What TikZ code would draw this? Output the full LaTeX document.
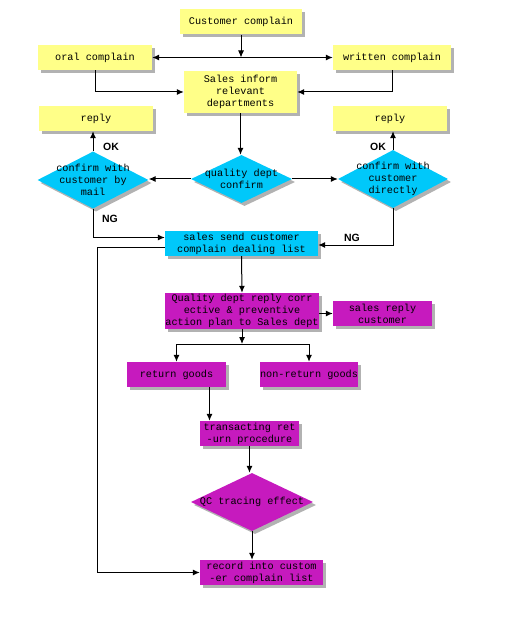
\documentclass[tikz,border=0pt]{standalone}
\usepackage{fontspec}
\setmonofont{Liberation Mono}
\newfontfamily\tagfont{Liberation Sans}
\usepackage{tikz}
\usetikzlibrary{arrows.meta,positioning,shapes.geometric,shadows}
\definecolor{note}{RGB}{255,255,136}
\definecolor{sky}{RGB}{0,200,250}
\definecolor{plum}{RGB}{198,26,190}

\begin{document}
\begin{tikzpicture}[x=1pt,y=-1pt,
    box/.style={rectangle,inner sep=0pt,minimum height=25pt,align=center,font=\ttfamily\fontsize{10.2}{12}\selectfont,drop shadow={shadow xshift=3pt,shadow yshift=-3pt,fill=black!60}},
    yel/.style={box,fill=note},
    cyb/.style={box,fill=sky},
    mag/.style={box,fill=plum},
    dia/.style={diamond,inner sep=0pt,drop shadow={shadow xshift=3pt,shadow yshift=-3pt,fill=black!60}},
    dtext/.style={font=\ttfamily\fontsize{10.2}{12}\selectfont,align=center},
    tag/.style={font=\tagfont\bfseries\fontsize{10.5}{12}\selectfont},
    ed/.style={draw=black,line width=1pt,-{Latex[length=7pt,width=6pt]}}]
   \useasboundingbox (0,0) rectangle (520,620);
   % top part
   \node[yel,minimum width=122pt] (cc)   at (241,22)    {Customer complain};
   \node[yel,minimum width=114pt] (oral) at (95,57.5)   {oral complain};
   \node[yel,minimum width=118pt] (wri)  at (392,57.5)  {written complain};
   \node[yel,minimum width=113pt,minimum height=42pt] (inf) at (240.5,92) {Sales inform\\relevant\\departments};
   \node[yel,minimum width=114pt] (repl) at (96,118.5)  {reply};
   \node[yel,minimum width=114pt] (repr) at (390,118.5) {reply};
   % confirm step
   \node[dia,fill=sky,minimum width=101pt,minimum height=48pt] (qd) at (241.5,179)
        {}; \node[dtext] at (qd) {quality dept\\confirm};
   \node[dia,fill=sky,minimum width=111pt,minimum height=57pt] (cl) at (93,180)
        {}; \node[dtext] at (cl) {confirm with\\customer by\\mail};
   \node[dia,fill=sky,minimum width=110pt,minimum height=58pt] (cr) at (393,179)
        {}; \node[dtext] at (cr) {confirm with\\customer\\directly};
   \node[cyb,minimum width=153pt] (send) at (241.5,243.5) {sales send customer\\complain dealing list};
   % lower part
   \node[mag,minimum width=154pt,minimum height=36pt] (qr) at (242,311) {Quality dept reply corr\\ective \& preventive\\action plan to Sales dept};
   \node[mag,minimum width=99pt] (sr)  at (382.5,313.5) {sales reply\\customer};
   \node[mag,minimum width=99pt] (ret) at (176.5,374.5) {return goods};
   \node[mag,minimum width=98pt] (non) at (309,374.5)   {non-return goods};
   \node[mag,minimum width=99pt] (tr)  at (249.5,433.5) {transacting ret\\-urn procedure};
   \node[dia,fill=plum,minimum width=122pt,minimum height=58pt] (qc) at (252,502)
        {}; \node[dtext] at (qc) {QC tracing effect};
   \node[mag,minimum width=123pt] (rec) at (261.5,572.5) {record into custom\\-er complain list};
   % labels
   \node[tag] (ok1) at (111,147) {OK};
   \node[tag] (ok2) at (378,147) {OK};
   \node[tag] (ng1) at (110,219) {NG};
   \node[tag] (ng2) at (352,238) {NG};
   \coordinate (fork) at (242,344);
   \coordinate (lt)   at (97,572.5);
   % connectors
   \draw[ed] (cc) -- (cc |- oral);
   \draw[ed,{Latex[length=7pt,width=6pt]}-{Latex[length=7pt,width=6pt]}] (oral) -- (wri);
   \draw[ed] (oral) |- (inf); \draw[ed] (wri) |- (inf);
   \draw[ed] (inf) -- (inf |- qd.north);
   \draw[ed] (qd.west) -- (qd.west -| cl.east);
   \draw[ed] (qd.east) -- (qd.east -| cr.west);
   \draw[ed] (cl.north) -- (cl.north |- repl.south);
   \draw[ed] (cr.north) -- (cr.north |- repr.south);
   \draw[ed] (cl.south) |- ([yshift=6pt]send.west);
   \draw[ed] (cr.south) |- ([yshift=-1.5pt]send.east);
   \draw[ed] ([yshift=-3.5pt]send.west) -| (lt) -- (rec.west);
   \draw[ed] (send.south) -- (qr.north);
   \draw[ed] (sr.west -| qr.east) -- (sr.west);
   \draw[ed] (qr.south) -- (fork);
   \draw[ed] (fork) -| (ret.north); \draw[ed] (fork) -| (non.north);
   \draw[ed] ([xshift=33pt]ret.south) -- ([xshift=33pt]ret.south |- tr.north);
   \draw[ed] (tr.south) -- (tr.south |- qc.north);
   \draw[ed] (qc.south) -- (qc.south |- rec.north);
\end{tikzpicture}
\end{document}
